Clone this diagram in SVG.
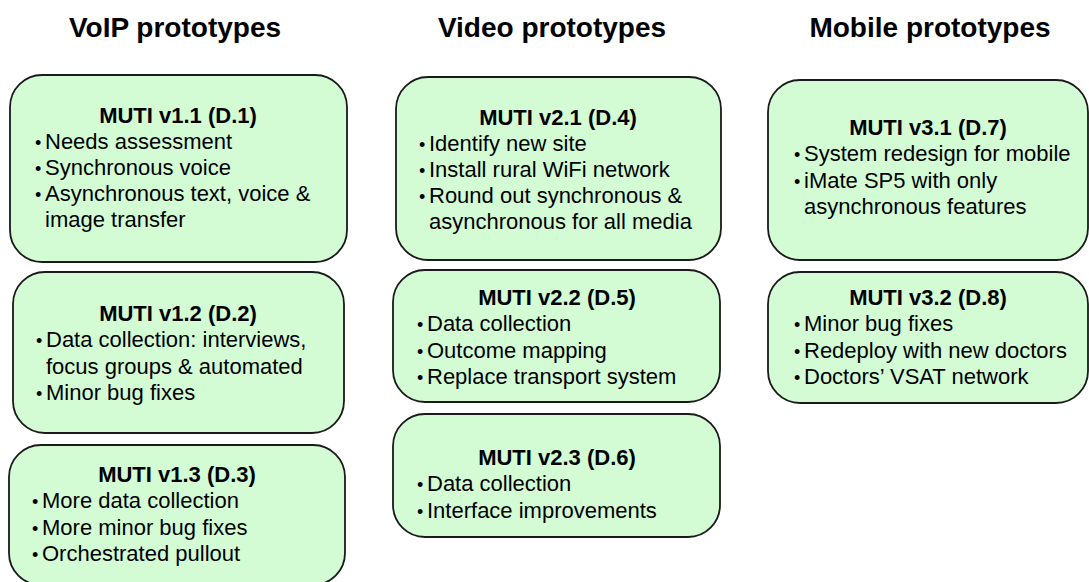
<svg xmlns="http://www.w3.org/2000/svg" width="1089" height="582" viewBox="0 0 1089 582">
<style>
.box{fill:#d4fcd4;stroke:#1a1a1a;stroke-width:1.8}
.hdr{font-family:"Liberation Sans",Arial,sans-serif;font-size:28px;font-weight:bold;fill:#000;text-anchor:middle}
.ttl{font-family:"Liberation Sans",Arial,sans-serif;font-size:22px;font-weight:bold;fill:#000;text-anchor:middle}
.txt{font-family:"Liberation Sans",Arial,sans-serif;font-size:22px;fill:#000}
.bul{font-family:"Liberation Sans",Arial,sans-serif;font-size:18px;fill:#000}
</style>
<rect width="1089" height="582" fill="#fff"/>
<g id="headers">
<text class="hdr" x="175" y="37">VoIP prototypes</text>
<text class="hdr" x="552" y="37">Video prototypes</text>
<text class="hdr" x="930" y="37">Mobile prototypes</text>
</g>
<g id="connectors"></g>
<g id="D1">
<rect class="box" x="10" y="75" width="337" height="187" rx="32"/>
<text class="ttl" x="178" y="123">MUTI v1.1 (D.1)</text>
<text class="bul" x="35" y="149">•</text><text class="txt" x="45" y="149">Needs assessment</text>
<text class="bul" x="35" y="175">•</text><text class="txt" x="45" y="175">Synchronous voice</text>
<text class="bul" x="35" y="201">•</text><text class="txt" x="45" y="201">Asynchronous text, voice &amp;</text>
<text class="txt" x="45" y="227">image transfer</text>
</g>
<g id="D2">
<rect class="box" x="13" y="272" width="331" height="161" rx="32"/>
<text class="ttl" x="178" y="321">MUTI v1.2 (D.2)</text>
<text class="bul" x="36" y="347">•</text><text class="txt" x="46" y="347">Data collection: interviews,</text>
<text class="txt" x="46" y="374">focus groups &amp; automated</text>
<text class="bul" x="36" y="400">•</text><text class="txt" x="46" y="400">Minor bug fixes</text>
</g>
<g id="D3">
<rect class="box" x="9" y="445" width="336" height="140" rx="32"/>
<text class="ttl" x="177" y="482">MUTI v1.3 (D.3)</text>
<text class="bul" x="32" y="508">•</text><text class="txt" x="42" y="508">More data collection</text>
<text class="bul" x="32" y="535">•</text><text class="txt" x="42" y="535">More minor bug fixes</text>
<text class="bul" x="32" y="561">•</text><text class="txt" x="42" y="561">Orchestrated pullout</text>
</g>
<g id="D4">
<rect class="box" x="396" y="77" width="325" height="183" rx="32"/>
<text class="ttl" x="558" y="125">MUTI v2.1 (D.4)</text>
<text class="bul" x="419" y="151">•</text><text class="txt" x="429" y="151">Identify new site</text>
<text class="bul" x="419" y="177">•</text><text class="txt" x="429" y="177">Install rural WiFi network</text>
<text class="bul" x="419" y="203">•</text><text class="txt" x="429" y="203">Round out synchronous &amp;</text>
<text class="txt" x="429" y="229">asynchronous for all media</text>
</g>
<g id="D5">
<rect class="box" x="393" y="270" width="327" height="132" rx="32"/>
<text class="ttl" x="557" y="305">MUTI v2.2 (D.5)</text>
<text class="bul" x="417" y="331">•</text><text class="txt" x="427" y="331">Data collection</text>
<text class="bul" x="417" y="358">•</text><text class="txt" x="427" y="358">Outcome mapping</text>
<text class="bul" x="417" y="384">•</text><text class="txt" x="427" y="384">Replace transport system</text>
</g>
<g id="D6">
<rect class="box" x="393" y="414" width="327" height="123" rx="32"/>
<text class="ttl" x="557" y="465">MUTI v2.3 (D.6)</text>
<text class="bul" x="417" y="491">•</text><text class="txt" x="427" y="491">Data collection</text>
<text class="bul" x="417" y="518">•</text><text class="txt" x="427" y="518">Interface improvements</text>
</g>
<g id="D7">
<rect class="box" x="768" y="80" width="320" height="180" rx="32"/>
<text class="ttl" x="928" y="135">MUTI v3.1 (D.7)</text>
<text class="bul" x="794" y="161">•</text><text class="txt" x="804" y="161">System redesign for mobile</text>
<text class="bul" x="794" y="188">•</text><text class="txt" x="804" y="188">iMate SP5 with only</text>
<text class="txt" x="804" y="214">asynchronous features</text>
</g>
<g id="D8">
<rect class="box" x="768" y="272" width="320" height="131" rx="32"/>
<text class="ttl" x="928" y="305">MUTI v3.2 (D.8)</text>
<text class="bul" x="794" y="331">•</text><text class="txt" x="804" y="331">Minor bug fixes</text>
<text class="bul" x="794" y="358">•</text><text class="txt" x="804" y="358">Redeploy with new doctors</text>
<text class="bul" x="794" y="384">•</text><text class="txt" x="804" y="384">Doctors’ VSAT network</text>
</g>
</svg>
